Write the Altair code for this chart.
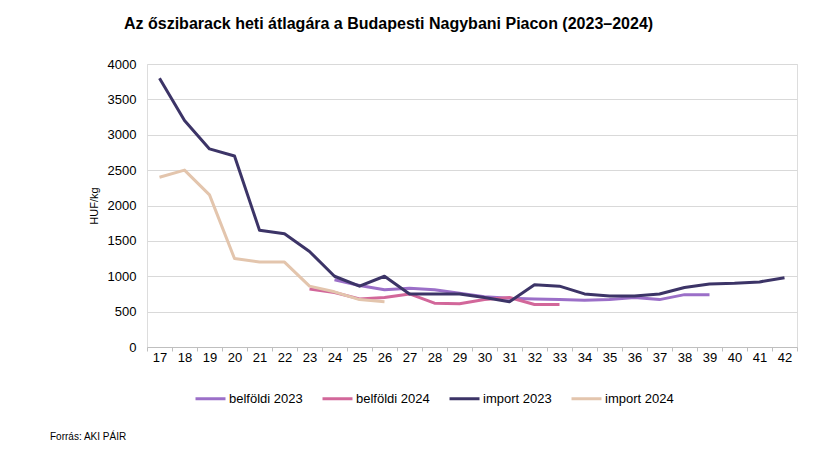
import altair as alt
import pandas as pd

weeks = list(range(17, 43))

belfoldi_2023 = [None]*7 + [950, 870, 810, 830, 810, 760, 710, 690, 680, 670, 660, 670, 700, 670, 740, 740, None, None, None]
belfoldi_2024 = [None]*6 + [820, 770, 680, 700, 750, 620, 610, 670, 700, 600, 600] + [None]*9
import_2023 = [3800, 3200, 2800, 2700, 1650, 1600, 1350, 1000, 860, 1000, 750, 750, 750, 700, 640, 880, 860, 750, 720, 720, 750, 840, 890, 900, 920, 980]
import_2024 = [2400, 2500, 2150, 1250, 1200, 1200, 860, 780, 670, 640] + [None]*16

series_names = ["belföldi 2023", "belföldi 2024", "import 2023", "import 2024"]
series_values = [belfoldi_2023, belfoldi_2024, import_2023, import_2024]
colors = ["#9b6fc8", "#d2679a", "#3c3467", "#e3c5ad"]

rows = []
for name, vals in zip(series_names, series_values):
    for w, v in zip(weeks, vals):
        if v is not None:
            rows.append({"het": str(w), "ar": v, "sorozat": name})
df = pd.DataFrame(rows)

week_labels = [str(w) for w in weeks]
FONT = "Liberation Sans"

lines = alt.Chart(df).mark_line(strokeWidth=3, strokeJoin="round").encode(
    x=alt.X("het:O", sort=week_labels, bandPosition=0.5,
            scale=alt.Scale(type="band", domain=week_labels, paddingInner=0, paddingOuter=0),
            axis=alt.Axis(title=None, labelAngle=0, tickBand="extent", domainColor="#bfbfbf",
                          tickColor="#bfbfbf", tickSize=4, labelFontSize=13, labelColor="#000000",
                          labelPadding=0, grid=False, labelFont=FONT)),
    y=alt.Y("ar:Q", scale=alt.Scale(domain=[0, 4000], nice=False),
            axis=alt.Axis(title="HUF/kg", values=list(range(0, 4001, 500)), format="d", domain=False, ticks=False,
                          labelPadding=11, labelFontSize=13, labelColor="#000000", gridColor="#d9d9d9",
                          titleFontSize=11, titleFontWeight="normal", titleColor="#000000",
                          titlePadding=8, labelFont=FONT, titleFont=FONT)),
    color=alt.Color("sorozat:N", sort=series_names,
                    scale=alt.Scale(domain=series_names, range=colors),
                    legend=alt.Legend(title=None, orient="none", legendX=47, legendY=318,
                                      direction="horizontal", symbolType="stroke", symbolSize=900,
                                      symbolStrokeWidth=3, labelFontSize=13, labelOffset=2,
                                      columnPadding=13, labelFont=FONT, labelColor="#000000")),
)

source = alt.Chart(pd.DataFrame({"t": ["Forrás: AKI PÁIR"]})).mark_text(
    align="left", baseline="middle", fontSize=10, font=FONT, color="#000000"
).encode(x=alt.value(-97), y=alt.value(373), text="t:N")

chart = alt.layer(lines, source).properties(
    width=650, height=283,
    autosize=alt.AutoSizeParams(type="none"),
    padding={"left": 139, "top": 56, "right": 26, "bottom": 102},
    title=alt.TitleParams("Az őszibarack heti átlagára a Budapesti Nagybani Piacon (2023–2024)",
                          anchor="start", frame="group", dx=-23, offset=26, fontSize=16,
                          font="Liberation Sans Narrow, Liberation Sans", fontWeight="bold",
                          color="#000000"),
).configure_view(stroke=None).configure(background="white")

chart.save("out.html", embed_options={"renderer": "svg", "actions": False})
